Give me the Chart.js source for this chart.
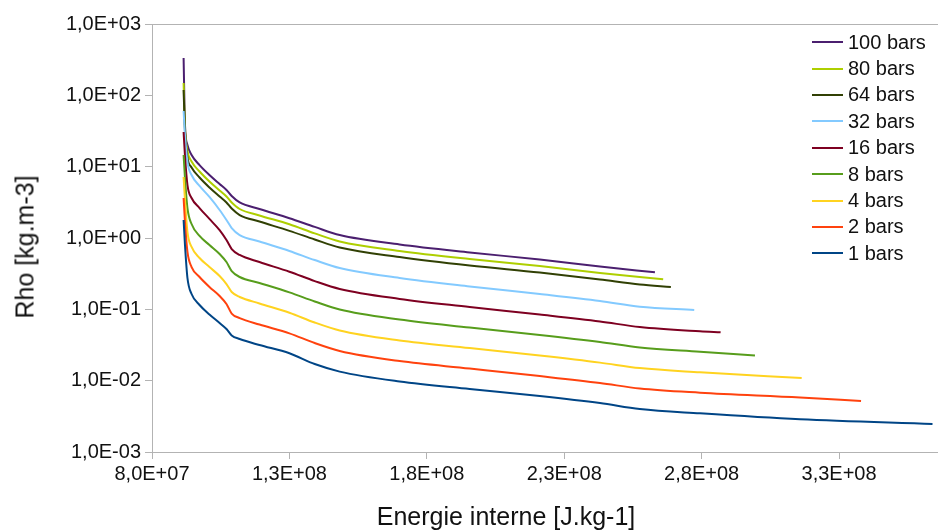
<!DOCTYPE html>
<html lang="fr">
<head>
<meta charset="utf-8">
<title>Rho - Energie interne</title>
<script src="https://cdn.jsdelivr.net/npm/chart.js@4.4.1/dist/chart.umd.min.js"></script>
<style>
    html, body { margin: 0; padding: 0; background: #fff; }
    #wrap {
        position: relative; width: 938px; height: 531px; overflow: hidden;
        font-family: 'Liberation Sans', Arial, sans-serif; color: #111;
    }
    #rhoChart { position: absolute; left: 0; top: 0; }
    .axis-title { position: absolute; font-size: 25px; line-height: 1; white-space: nowrap; }
    #titreX { left: 506px; top: 516px; transform: translate(-50%, -50%); }
    #titreY { left: 25px; top: 247px; transform: translate(-50%, -50%) rotate(-90deg); }
    #legende { position: absolute; left: 812px; top: 29px; }
    .leg-row { display: flex; align-items: center; height: 26.4px; font-size: 20px; }
    .leg-line { width: 31px; height: 2px; margin-right: 5px; }
</style>
</head>
<body>
<div id="wrap">
    <canvas id="rhoChart" width="938" height="531"></canvas>
    <div class="axis-title" id="titreY">Rho [kg.m-3]</div>
    <div class="axis-title" id="titreX">Energie interne [J.kg-1]</div>
    <div id="legende"></div>
</div>
<script>
// energy grid shared by every isobar (J/kg); the last point of each curve is in energieFin
const energieGrille = [9.15e7, 9.20e7, 9.29e7, 9.44e7, 9.73e7, 1.009e8, 1.046e8, 1.071e8, 1.090e8,
    1.119e8, 1.191e8, 1.300e8, 1.392e8, 1.483e8, 1.701e8, 1.956e8, 2.211e8, 2.430e8, 2.575e8,
    2.794e8, 3.158e8];

const pressions = ['1 bars', '2 bars', '4 bars', '8 bars', '16 bars', '32 bars', '64 bars', '80 bars', '100 bars'];
const energieFin = [3.640e8, 3.380e8, 3.164e8, 2.994e8, 2.869e8, 2.773e8, 2.688e8, 2.660e8, 2.630e8];

// density (kg/m3)
const rho1 = [1.79, 0.798, 0.275, 0.164, 0.115, 0.0845, 0.0643, 0.0530, 0.0430, 0.0384, 0.0316,
    0.0242, 0.0171, 0.0134, 0.00973, 0.00764, 0.00610, 0.00486, 0.00401, 0.00348, 0.00287, 0.00247];
const rho2 = [3.64, 1.67, 0.637, 0.392, 0.284, 0.206, 0.154, 0.119, 0.0873, 0.0755, 0.0612,
    0.0461, 0.0337, 0.0261, 0.0188, 0.0148, 0.0116, 0.00927, 0.00776, 0.00678, 0.00581, 0.00519];
const rho4 = [7.16, 3.41, 1.21, 0.748, 0.524, 0.392, 0.293, 0.226, 0.175, 0.149, 0.121,
    0.0897, 0.0653, 0.0505, 0.0366, 0.0287, 0.0225, 0.0179, 0.0150, 0.0131, 0.0109];
const rho8 = [14.6, 6.93, 2.63, 1.57, 1.07, 0.798, 0.597, 0.460, 0.344, 0.284, 0.234,
    0.173, 0.129, 0.0993, 0.0719, 0.0556, 0.0437, 0.0348, 0.0292, 0.0255, 0.0226];
const rho16 = [30.6, 14.1, 5.53, 3.64, 2.63, 1.85, 1.29, 0.937, 0.701, 0.578, 0.460,
    0.337, 0.249, 0.193, 0.140, 0.108, 0.0845, 0.0675, 0.0565, 0.0492, 0.0476];
const rho32 = [60.3, 27.8, 11.6, 7.64, 5.36, 3.76, 2.47, 1.79, 1.38, 1.10, 0.893,
    0.658, 0.491, 0.379, 0.275, 0.209, 0.164, 0.131, 0.109, 0.0977];
const rho64 = [119, 31.5, 13.4, 9.73, 7.05, 5.11, 3.82, 3.15, 2.59, 2.10, 1.70,
    1.26, 0.953, 0.736, 0.541, 0.411, 0.328, 0.262, 0.223, 0.206];
const rho80 = [149, 34.8, 16.6, 11.8, 8.55, 6.19, 4.63, 3.82, 3.15, 2.55, 2.07,
    1.56, 1.16, 0.893, 0.658, 0.507, 0.405, 0.323, 0.264];
const rho100 = [333, 38.4, 20.1, 14.6, 10.5, 7.64, 5.71, 4.71, 3.88, 3.15, 2.55,
    1.89, 1.43, 1.10, 0.811, 0.627, 0.499, 0.398, 0.330];

const rhoSeries = [rho1, rho2, rho4, rho8, rho16, rho32, rho64, rho80, rho100];

const energieTicks = [8e7, 1.3e8, 1.8e8, 2.3e8, 2.8e8, 3.3e8];
const energieLabels = ['8,0E+07', '1,3E+08', '1,8E+08', '2,3E+08', '2,8E+08', '3,3E+08'];
const rhoTicks = [1e-3, 1e-2, 1e-1, 1, 10, 100, 1000];
const rhoLabels = ['1,0E-03', '1,0E-02', '1,0E-01', '1,0E+00', '1,0E+01', '1,0E+02', '1,0E+03'];

const couleurs = ['#004586', '#ff420e', '#ffd320', '#579d1c', '#7e0021', '#83caff', '#314004', '#aecf00', '#4b1f6f'];
const GRIS = '#b3b3b3';
const POLICE = "'Liberation Sans', Arial, sans-serif";

function buildDatasets() {
    return rhoSeries.map((rho, i) => ({
        label: pressions[i],
        data: rho.map((v, j) => ({
            x: j < rho.length - 1 ? energieGrille[j] : energieFin[i],
            y: v
        })),
        borderColor: couleurs[i],
        backgroundColor: couleurs[i],
        borderWidth: 2,
        pointRadius: 0,
        fill: false,
        cubicInterpolationMode: 'monotone'
    }));
}

// plot frame (LibreOffice style wall border)
const cadrePlugin = {
    id: 'cadre',
    beforeDatasetsDraw(chart) {
        const { ctx, chartArea: a } = chart;
        ctx.save();
        ctx.strokeStyle = GRIS;
        ctx.lineWidth = 1;
        ctx.strokeRect(a.left + 0.5, a.top + 0.5, a.right - a.left, a.bottom - a.top);
        ctx.restore();
    }
};

function buildLegend() {
    const box = document.getElementById('legende');
    // top to bottom: highest pressure first
    for (let i = pressions.length - 1; i >= 0; i--) {
        const row = document.createElement('div');
        row.className = 'leg-row';
        row.innerHTML = `<span class="leg-line" style="background:${couleurs[i]}"></span><span>${pressions[i]}</span>`;
        box.appendChild(row);
    }
}

function initChart() {
    const ctx = document.getElementById('rhoChart').getContext('2d');
    new Chart(ctx, {
        type: 'line',
        data: { datasets: buildDatasets() },
        options: {
            responsive: false,
            animation: false,
            layout: { padding: { top: 24, right: 0, bottom: 0, left: 0 } },
            plugins: {
                legend: { display: false },
                tooltip: { enabled: false }
            },
            scales: {
                x: {
                    type: 'linear',
                    min: 8e7,
                    max: 3.66e8,
                    afterBuildTicks: s => { s.ticks = energieTicks.map(v => ({ value: v })); },
                    afterFit: s => { s.height = 79; },
                    ticks: {
                        callback: (v, i) => energieLabels[i],
                        font: { family: POLICE, size: 20 },
                        color: '#111',
                        padding: 3,
                        maxRotation: 0,
                        autoSkip: false
                    },
                    grid: { drawOnChartArea: false, tickLength: 7, color: GRIS },
                    border: { color: GRIS }
                },
                y: {
                    type: 'logarithmic',
                    min: 1e-3,
                    max: 1e3,
                    afterBuildTicks: s => { s.ticks = rhoTicks.map(v => ({ value: v, major: true })); },
                    afterFit: s => { s.width = 152; },
                    ticks: {
                        callback: (v, i) => rhoLabels[i],
                        font: { family: POLICE, size: 20 },
                        color: '#111',
                        padding: 4,
                        autoSkip: false
                    },
                    grid: { drawOnChartArea: false, tickLength: 7, color: GRIS },
                    border: { color: GRIS }
                }
            }
        },
        plugins: [cadrePlugin]
    });
}

document.addEventListener('DOMContentLoaded', function() {
    buildLegend();
    initChart();
});
</script>
</body>
</html>
